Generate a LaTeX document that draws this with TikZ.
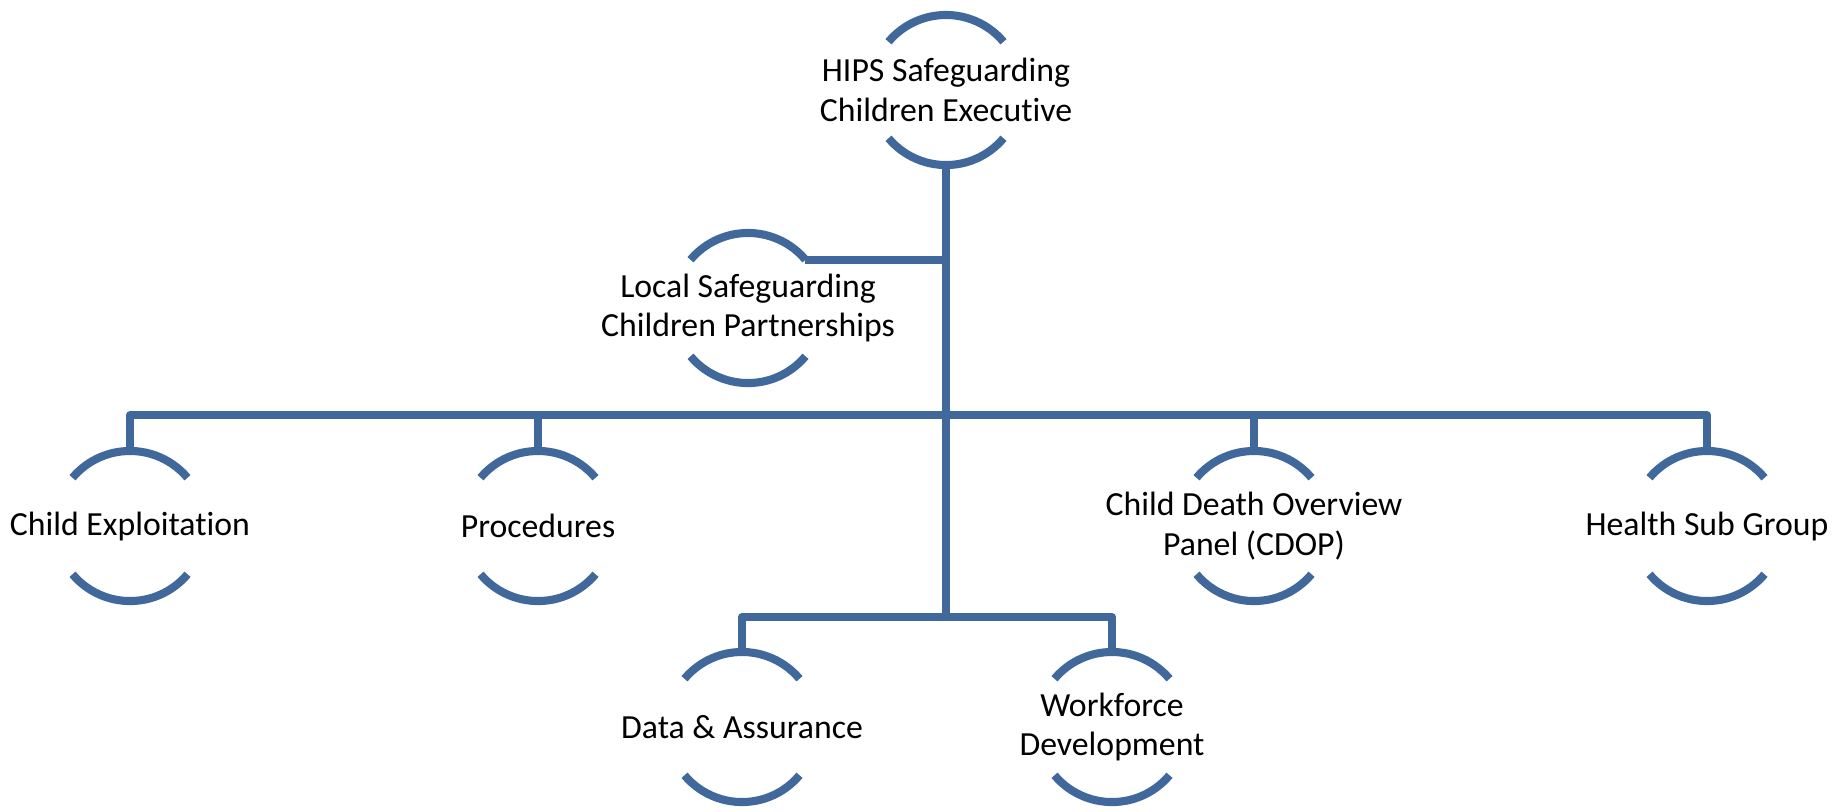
\documentclass[tikz,border=0pt]{standalone}
\usepackage{fontspec}
\setmainfont[Ligatures={NoCommon}]{Carlito}
\definecolor{orgblue}{RGB}{65,104,154}
\tikzset{
  lbl/.style={align=center, inner sep=0pt, font=\fontsize{9.6}{11.2}\selectfont, text=black},
  arcline/.style={draw=orgblue, line width=2.3pt, line cap=butt},
  conn/.style={draw=orgblue, line width=2.3pt, line join=round},
}
\newcommand{\R}{0.75cm}
\begin{document}
\begin{tikzpicture}[x=0.01cm,y=0.01cm]
\useasboundingbox (0,0) rectangle (1845,-811);
\node[lbl] (top)  at (946,-90)  {HIPS Safeguarding\\Children Executive};
\node[lbl] (lscp) at (748,-308) {Local Safeguarding\\Children Partnerships};
\node[lbl] (ce)   at (130,-526) {Child Exploitation};
\node[lbl] (proc) at (538,-526) {Procedures};
\node[lbl] (cdop) at (1254,-526) {Child Death Overview\\Panel (CDOP)};
\node[lbl] (hsg)  at (1707,-526) {Health Sub Group};
\node[lbl] (da)   at (742,-727) {Data \& Assurance};
\node[lbl] (wd)   at (1112,-727) {Workforce\\Development};
\coordinate (j1) at (946,-415);
\coordinate (j2) at (946,-617);
\foreach \n in {top,lscp,ce,proc,cdop,hsg,da,wd}{
  \draw[arcline] ([shift={(40:\R)}]\n.center) arc[start angle=40,end angle=140,radius=\R];
  \draw[arcline] ([shift={(220:\R)}]\n.center) arc[start angle=220,end angle=320,radius=\R];
}
% trunk
\draw[conn] ([yshift=-\R]top.center) -- (j2);
% LSCP branch
\draw[conn] ([shift={(40:\R)}]lscp.center) coordinate (l1) -- (l1 -| top.center);
% main bus
\draw[conn] ([yshift=\R]ce.center) -- (ce.center |- j1) -- (hsg.center |- j1) -- ([yshift=\R]hsg.center);
\draw[conn] ([yshift=\R]proc.center) -- (proc.center |- j1);
\draw[conn] ([yshift=\R]cdop.center) -- (cdop.center |- j1);
% sub bus
\draw[conn] ([yshift=\R]da.center) -- (da.center |- j2) -- (wd.center |- j2) -- ([yshift=\R]wd.center);
\end{tikzpicture}
\end{document}
